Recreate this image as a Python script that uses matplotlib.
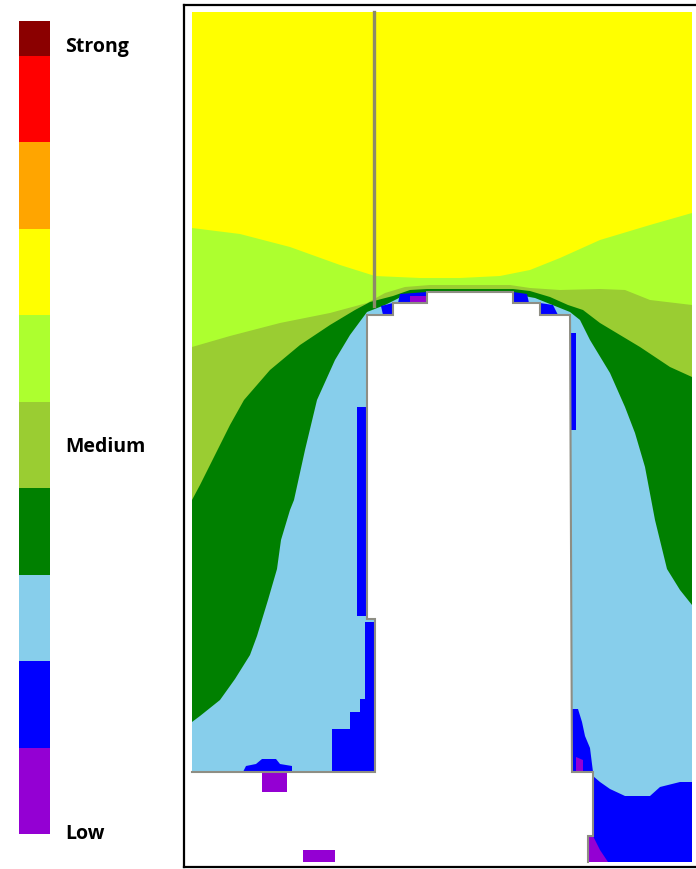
import matplotlib
matplotlib.use("Agg")
import matplotlib.pyplot as plt
from matplotlib.colors import ListedColormap, BoundaryNorm
from matplotlib.cm import ScalarMappable

# field classes, weakest to strongest
class_colors = ['darkviolet', 'blue', 'skyblue', 'green', 'yellowgreen',
                'greenyellow', 'yellow', 'orange', 'red', 'darkred']
class_bounds = [0, 1, 2, 3, 4, 5, 6, 7, 8, 9, 9.4]
scale_labels = ['Low', 'Medium', 'Strong']
scale_values = [0.0, 4.48, 9.1]

# plot window (picture units)
field_x = [192, 692]
field_y = [12, 862]

# yellow / light green edge
yellow_x = [192, 240, 290, 340, 375, 420, 460, 500, 530, 560, 600, 650, 692]
yellow_y = [228, 234, 247, 265, 276, 278, 278, 276, 270, 258, 240, 225, 213]

# light green / yellow green edge
lgreen_x = [192, 230, 280, 330, 367, 385, 405, 430, 510, 530, 560, 600, 625, 650, 692]
lgreen_y = [347, 336, 323, 313, 303, 293, 287, 285, 285, 288, 290, 289, 290, 300, 305]

# yellow green / green edge
ygreen_x = [192, 200, 215, 230, 244, 270, 300, 330, 355, 370, 393, 410, 427,
            513, 530, 550, 568, 583, 600, 620, 640, 670, 692]
ygreen_y = [500, 485, 455, 425, 400, 370, 345, 325, 310, 302, 296, 290, 289,
            289, 291, 297, 305, 310, 323, 335, 347, 367, 377]

# green / sky blue edge
green_x = [192, 200, 220, 235, 250, 257, 268, 277, 281, 290, 294, 305, 317,
           335, 350, 367, 385, 403, 427, 513, 535, 555, 570, 580, 590, 610,
           625, 635, 645, 655, 667, 680, 692]
green_y = [722, 716, 700, 679, 655, 636, 600, 569, 540, 510, 500, 450, 400,
           360, 335, 312, 305, 296, 294, 294, 298, 306, 312, 320, 340, 373,
           407, 433, 467, 520, 569, 590, 605]

# low field pockets
blue_patches = [
    [(357, 407), (367, 407), (367, 616), (357, 616)],
    [(365, 622), (375, 622), (375, 772), (332, 772), (332, 729), (350, 729),
     (350, 712), (360, 712), (360, 699), (365, 699)],
    [(243, 772), (246, 766), (256, 764), (262, 759), (276, 759), (280, 764),
     (292, 766), (292, 772)],
    [(570, 333), (576, 333), (576, 430), (570, 430)],
    [(572, 709), (578, 709), (582, 722), (585, 736), (590, 748), (593, 772),
     (572, 772)],
    [(593, 776), (600, 782), (610, 789), (625, 796), (650, 796), (660, 787),
     (680, 782), (692, 782), (692, 862), (588, 862), (588, 836), (593, 836)],
    [(381, 306), (393, 303), (393, 315), (383, 315)],
    [(400, 294), (427, 292), (427, 303), (398, 303)],
    [(513, 292), (527, 294), (529, 303), (513, 303)],
    [(540, 303), (553, 305), (558, 315), (540, 315)],
]
purple_patches = [
    [(410, 296), (427, 296), (427, 303), (410, 303)],
    [(576, 757), (583, 760), (583, 772), (576, 772)],
    [(588, 836), (593, 836), (600, 850), (608, 862), (588, 862)],
]
purple_ground = [
    [(262, 772), (287, 772), (287, 792), (262, 792)],
    [(303, 850), (335, 850), (335, 862), (303, 862)],
]

# building and ground (no field)
building = [(367, 315), (393, 315), (393, 303), (427, 303), (427, 292),
            (513, 292), (513, 303), (540, 303), (540, 315), (570, 315),
            (572, 772), (593, 772), (593, 836), (588, 836), (588, 866),
            (186, 866), (186, 772), (375, 772), (375, 619), (367, 619)]
outline = [(192, 772), (375, 772), (375, 619), (367, 619), (367, 315),
           (393, 315), (393, 303), (427, 303), (427, 292), (513, 292),
           (513, 303), (540, 303), (540, 315), (570, 315), (572, 772),
           (593, 772), (593, 836), (588, 836), (588, 862)]
mast_x = 374
mast_y = [12, 306]

W, H = 696, 869
fig = plt.figure(figsize=(W / 100, H / 100), dpi=100)

ax = fig.add_axes([184 / W, (H - 867) / H, (W - 184) / W, (867 - 5) / H])
ax.set_xlim(184, 696)
ax.set_ylim(867, 5)
ax.set_xticks([])
ax.set_yticks([])
for s in ['left', 'top', 'bottom']:
    ax.spines[s].set_linewidth(1.6)
ax.spines['right'].set_visible(False)

x0, x1 = field_x
y0, y1 = field_y
ax.fill([x0, x1, x1, x0], [y0, y0, y1, y1], color=class_colors[6], lw=0)

bands = [(yellow_x, yellow_y, 5), (lgreen_x, lgreen_y, 4),
         (ygreen_x, ygreen_y, 3), (green_x, green_y, 2)]
for bx, by, k in bands:
    px = list(bx) + [x1, x0]
    py = list(by) + [y1, y1]
    ax.fill(px, py, color=class_colors[k], lw=0)

for p in blue_patches:
    ax.fill(*zip(*p), color=class_colors[1], lw=0)
for p in purple_patches:
    ax.fill(*zip(*p), color=class_colors[0], lw=0)

ax.fill(*zip(*building), color='white', lw=0)
for p in purple_ground:
    ax.fill(*zip(*p), color=class_colors[0], lw=0)

ax.plot(*zip(*outline), color='#8e8e84', lw=1.5, solid_joinstyle='miter')
ax.plot([mast_x, mast_x], mast_y, color='#8c8a6a', lw=2.4)

# colour scale
cax = fig.add_axes([19 / W, (H - 834) / H, 31 / W, (834 - 21) / H])
cmap = ListedColormap(class_colors)
norm = BoundaryNorm(class_bounds, cmap.N)
cb = fig.colorbar(ScalarMappable(norm=norm, cmap=cmap), cax=cax,
                  boundaries=class_bounds, spacing='proportional')
cb.outline.set_visible(False)
cb.set_ticks([])
cb.minorticks_off()
cax.tick_params(which='both', length=0, labelright=False)
for lab, v in zip(scale_labels, scale_values):
    yy = cax.transData.transform((0, v))[1]
    fig.text(65 / W, yy / fig.dpi / fig.get_figheight(), lab,
             fontsize=14, fontweight='bold', family='Open Sans',
             va='center', ha='left')

fig.savefig('out.png', dpi=100)
